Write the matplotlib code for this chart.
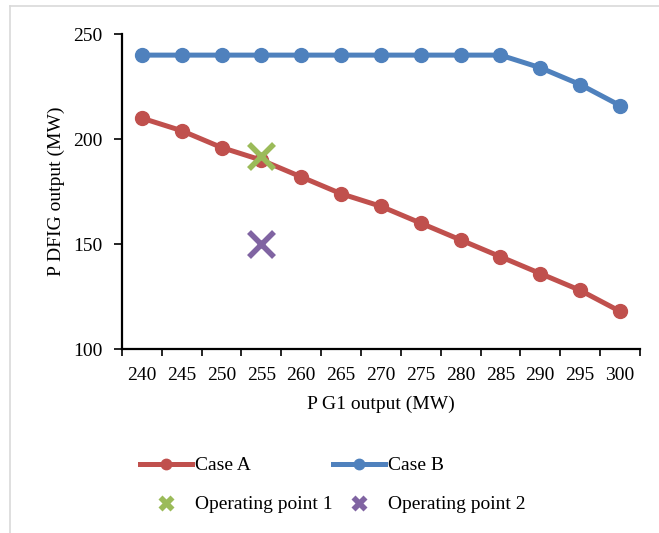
import matplotlib.pyplot as plt
import numpy as np
from matplotlib.lines import Line2D

# Data

g1_output = ["240", "245", "250", "255", "260", "265", "270",
             "275", "280", "285", "290", "295", "300"]
case_a = [210, 204, 196, 190, 182, 174, 168, 160, 152, 144, 136, 128, 118]
case_b = [240, 240, 240, 240, 240, 240, 240, 240, 240, 240, 234, 226, 216]
op1_x, op1_y = "255", 192
op2_x, op2_y = "255", 150

red = "#C0504D"
blue = "#4F81BD"
green = "#9BBB59"
purple = "#8064A2"

plt.rcParams["font.family"] = ["Liberation Serif", "DejaVu Serif"]
plt.rcParams["font.size"] = 14

fig = plt.figure(figsize=(6.59, 5.33), dpi=100)
ax = fig.add_axes([0.185, 0.345, 0.786, 0.591])

# Chart area border (only top and left edges visible)
fig.add_artist(Line2D([10 / 659, 10 / 659], [0, 1 - 6 / 533],
                      color="#d9d9d9", lw=1.2, transform=fig.transFigure))
fig.add_artist(Line2D([10 / 659, 1], [1 - 6 / 533, 1 - 6 / 533],
                      color="#d9d9d9", lw=1.2, transform=fig.transFigure))

ax.plot(g1_output, case_a, color=red, lw=3.6, marker="o", ms=10, zorder=3)
ax.plot(g1_output, case_b, color=blue, lw=3.6, marker="o", ms=10, zorder=3)
ax.plot([op1_x], [op1_y], ls="none", marker="x", ms=18, mew=4,
        color=green, zorder=4)
ax.plot([op2_x], [op2_y], ls="none", marker="x", ms=18, mew=4,
        color=purple, zorder=4)

ax.set_xlim(-0.5, len(g1_output) - 0.5)
ax.set_ylim(100, 250)
ax.set_yticks([100, 150, 200, 250])

ax.set_xticks(np.arange(-0.5, len(g1_output), 1), minor=True)
ax.tick_params(axis="x", which="major", length=0, pad=13)
ax.tick_params(axis="x", which="minor", length=5, width=1.2, direction="out")
ax.tick_params(axis="y", length=6, width=1.2, direction="out", pad=8)

for side in ["top", "right"]:
    ax.spines[side].set_visible(False)
for side in ["left", "bottom"]:
    ax.spines[side].set_linewidth(1.6)

ax.set_xlabel("P G1 output (MW)", labelpad=8)
ax.set_ylabel("P DFIG output (MW)", labelpad=6)

# Legend
handles = [
    Line2D([], [], color=red, lw=3.6, marker="o", ms=7.5),
    Line2D([], [], ls="none", marker="X", ms=11, color=green, mec="none"),
    Line2D([], [], color=blue, lw=3.6, marker="o", ms=7.5),
    Line2D([], [], ls="none", marker="X", ms=11, color=purple, mec="none"),
]
labels = ["Case A", "Operating point 1", "Case B", "Operating point 2"]
fig.legend(handles, labels, ncol=2,
           loc="center", bbox_to_anchor=(0.505, 0.09), frameon=False,
           handlelength=2.7, columnspacing=0.0, handletextpad=0.15,
           labelspacing=1.1)

fig.savefig("out.png", dpi=100)
